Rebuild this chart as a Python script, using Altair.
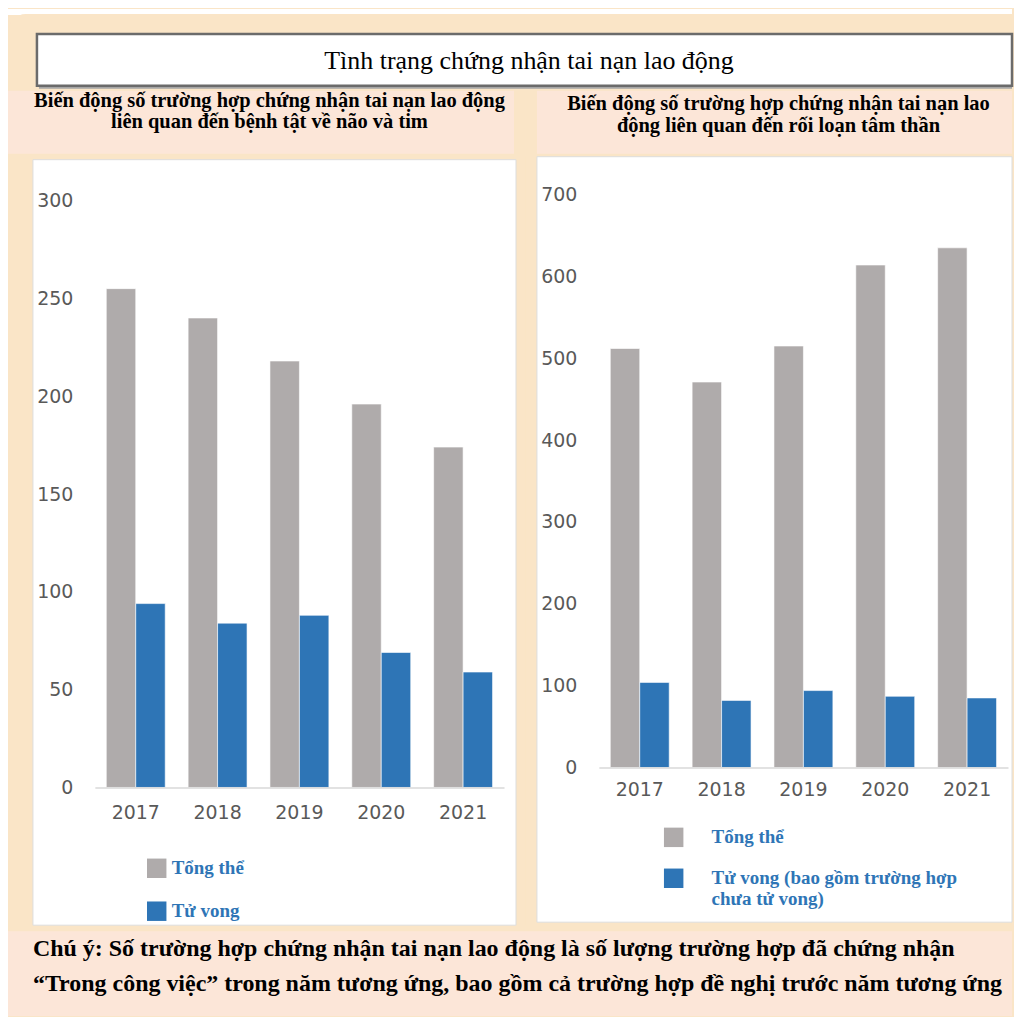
import altair as alt
import pandas as pd

# ---------------- data ----------------
years = ["2017", "2018", "2019", "2020", "2021"]
brain_total = [255, 240, 218, 196, 174]
brain_death = [94, 84, 88, 69, 59]
mental_total = [512, 471, 515, 614, 635]
mental_death = [104, 82, 94, 87, 85]

s_total = "Tổng thể"
s_death_brain = "Tử vong"
s_death_mental = "Tử vong (bao gồm trường hợp chưa tử vong)"

brain_ticks = [0, 50, 100, 150, 200, 250, 300]
mental_ticks = [0, 100, 200, 300, 400, 500, 600, 700]

title_text = "Tình trạng chứng nhận tai nạn lao động"
sub_left = ["Biến động số trường hợp chứng nhận tai nạn lao động",
            "liên quan đến bệnh tật về não và tim"]
sub_right = ["Biến động số trường hợp chứng nhận tai nạn lao",
             "động liên quan đến rối loạn tâm thần"]
note_lines = ["Chú ý: Số trường hợp chứng nhận tai nạn lao động là số lượng trường hợp đã chứng nhận",
              "“Trong công việc” trong năm tương ứng, bao gồm cả trường hợp đề nghị trước năm tương ứng"]

# ---------------- styles ----------------
GRAY = "#AFABAB"
BLUE = "#2E75B6"
FRAME = "#FAE5C7"
PEACH = "#FCE6D8"
SERIF = "Liberation Serif"
SANS = "DejaVu Sans"
W = 1006
PAD_IN = 0.28
PAD_OUT = 0.14


def box(x, x2, y, y2, fill, **kw):
    return alt.Chart(alt.Data(values=[{}])).mark_rect(fill=fill, **kw).encode(
        x=alt.value(x), x2=alt.value(x2), y=alt.value(y), y2=alt.value(y2))


def label(text, x, y, size, **kw):
    return alt.Chart(alt.Data(values=[{}])).mark_text(
        text=text, fontSize=size, font=SERIF, **kw).encode(
        x=alt.value(x), y=alt.value(y))


def long_df(total, death, death_name):
    rows = []
    for yr, t, d in zip(years, total, death):
        rows.append({"year": yr, "series": s_total, "value": t})
        rows.append({"year": yr, "series": death_name, "value": d})
    return pd.DataFrame(rows)


def bar_panel(df, death_name, ymax, ticks, cw, ch, xr, yr, panel, legend_xy,
              row_pad, label_offset, xlabel_pad, label_expr=None):
    domain = [s_total, death_name]
    n = len(years)
    step = (xr[1] - xr[0]) / (n - PAD_IN + 2 * PAD_OUT)
    bw = step * (1 - PAD_IN) / 2
    legend_kw = dict(orient="none", legendX=legend_xy[0], legendY=legend_xy[1],
                     title=None, symbolType="square", symbolSize=380,
                     symbolStrokeWidth=0, labelFont=SERIF, labelFontWeight="bold",
                     labelFontSize=19, labelColor=BLUE, labelOffset=label_offset,
                     rowPadding=row_pad, labelLimit=400, padding=0)
    if label_expr:
        legend_kw["labelExpr"] = label_expr
    enc = dict(
        x=alt.X("year:O", title=None, sort=years,
                scale=alt.Scale(range=list(xr), paddingInner=PAD_IN, paddingOuter=PAD_OUT),
                axis=alt.Axis(labelAngle=0, ticks=False, grid=False,
                              domainColor="#D9D9D9", domainWidth=1.5,
                              labelFont=SANS, labelFontSize=19, labelColor="#595959",
                              labelPadding=xlabel_pad, offset=-(ch - yr[0]), zindex=1)),
        y=alt.Y("value:Q", title=None,
                scale=alt.Scale(domain=[0, ymax], nice=False, range=list(yr)),
                axis=alt.Axis(values=ticks, domain=False, ticks=False, grid=False,
                              labelFont=SANS, labelFontSize=19, labelColor="#595959",
                              labelPadding=22, offset=-xr[0], zindex=1)),
        color=alt.Color("series:N", scale=alt.Scale(domain=domain, range=[GRAY, BLUE]),
                        legend=alt.Legend(**legend_kw)),
    )
    base = alt.Chart(df)
    bars_total = base.transform_filter(alt.datum.series == s_total).mark_bar(
        width=bw, xOffset=-bw / 2, stroke="white", strokeWidth=1,
        strokeOpacity=0.6).encode(**enc)
    bars_death = base.transform_filter(alt.datum.series == death_name).mark_bar(
        width=bw, xOffset=bw / 2, stroke="white", strokeWidth=1,
        strokeOpacity=0.6).encode(**enc)
    cell_rect = box(0, cw, 0, ch, FRAME)
    panel_rect = box(panel[0], panel[1], panel[2], panel[3], "white",
                     stroke="#DDDDDD", strokeWidth=1)
    return alt.layer(cell_rect, panel_rect, bars_total, bars_death).properties(
        width=cw, height=ch)


# ---------------- header ----------------
header = alt.layer(
    box(0, W, 0, 6, "white"),
    box(0, W, 5, 147, FRAME, cornerRadiusTopLeft=18),
    box(31, W, 27, 80, "#A6A6A6"),
    box(29, W, 25, 77, "white", stroke="#6B6B6B", strokeWidth=2.5),
    label(title_text, 522, 52, 26, baseline="middle", align="center", color="black"),
    box(0, 507, 82, 145, PEACH),
    box(530, W, 82, 145, PEACH),
    label(sub_left, 262, 92, 20.5, baseline="middle", align="center", fontWeight="bold",
          lineHeight=21, color="black"),
    label(sub_right, 772, 95, 20.5, baseline="middle", align="center", fontWeight="bold",
          lineHeight=22, color="black"),
).properties(width=W, height=147)

# ---------------- panels ----------------
left = bar_panel(long_df(brain_total, brain_death, s_death_brain), s_death_brain,
                 300, brain_ticks, cw=519, ch=770, xr=(87, 497), yr=(632, 44),
                 panel=(25, 509, 3, 770), legend_xy=(139, 703), row_pad=23,
                 label_offset=5, xlabel_pad=16)

right_expr = ("datum.label == '" + s_death_mental +
              "' ? ['Tử vong (bao gồm trường hợp', 'chưa tử vong)'] : datum.label")
right = bar_panel(long_df(mental_total, mental_death, s_death_mental), s_death_mental,
                  700, mental_ticks, cw=487, ch=770, xr=(73, 483), yr=(612, 38),
                  panel=(11, 487, 0, 767), legend_xy=(138, 672), row_pad=21,
                  label_offset=28, xlabel_pad=13, label_expr=right_expr)

row = alt.hconcat(left, right, spacing=0).resolve_scale(color="independent")

# ---------------- footer ----------------
footer = alt.layer(
    box(0, W, 0, 90, FRAME),
    box(0, W, 5, 90, PEACH),
    label(note_lines[0], 25, 23, 24, baseline="middle", align="left", fontWeight="bold",
          color="black"),
    label(note_lines[1], 25, 58, 24, baseline="middle", align="left", fontWeight="bold",
          color="black"),
).properties(width=W, height=90)

chart = alt.vconcat(header, row, footer, spacing=0).resolve_scale(
    color="independent").properties(padding=0, background=FRAME).configure_view(
    strokeWidth=0)

chart.save("out.html", embed_options={"renderer": "svg", "actions": False})
